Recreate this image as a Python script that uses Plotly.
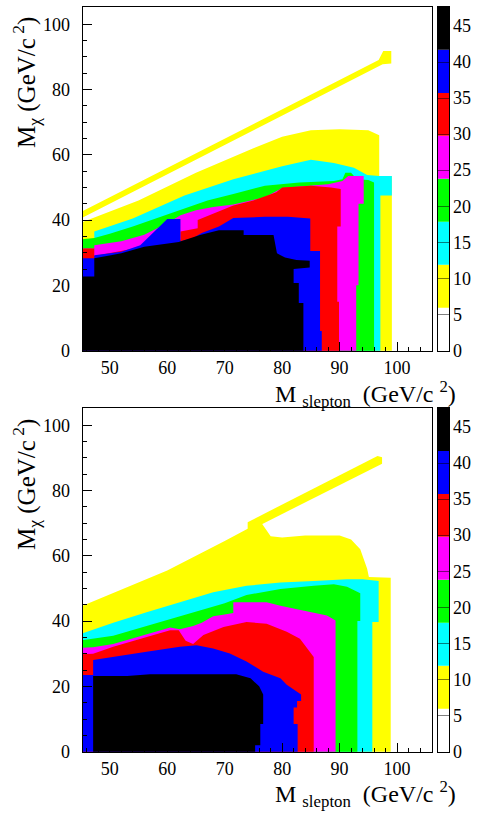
import plotly.graph_objects as go

# ---------------- data ----------------
# contour level edges of the colour scale (efficiency, %)
z_levels = [0, 5.96, 11.92, 17.89, 23.85, 29.81, 35.77, 41.74, 47.7]
level_colors = ["#ffffff", "#ffff00", "#00ffff", "#00ff00", "#ff00ff",
                "#ff0000", "#0000ff", "#000000"]
cbar_ticks = [0, 5, 10, 15, 20, 25, 30, 35, 40, 45]

x_ticks = [50, 60, 70, 80, 90, 100]
y_ticks = [0, 20, 40, 60, 80, 100]

# ---- upper panel: outer boundary of each region (>= level), M_slepton / M_chi ----
a_stripe_x = [45.3, 97.5, 99.0, 99.0, 97.6, 96.8, 45.3]
a_stripe_y = [40.8, 87.7, 88.0, 91.8, 91.8, 89.0, 42.8]

a_l1_x = [45.2, 55, 65, 75, 80, 85, 90, 95, 96.9, 96.9, 99.1, 99.1]
a_l1_y = [38.0, 46, 54.5, 62, 65.5, 67.5, 67.8, 67.5, 66.0, 53.5, 53.5, 0]

a_l2_x = [45.2, 47.3, 47.3, 54, 63, 71.5, 80, 85, 89, 92.5, 94.8, 96.9, 99.1, 99.1, 97.1, 97.1]
a_l2_y = [33.8, 33.8, 36.5, 40.5, 47.5, 52.5, 56.5, 58.5, 57.5, 56, 53.8, 53.5, 53.5, 47.5, 47.5, 0]

a_l3_x = [45.2, 47.3, 50, 54, 58, 63, 67, 71.5, 77, 83, 89, 90.5, 91, 92, 93, 95, 96, 96]
a_l3_y = [33.8, 34.5, 35.8, 38, 40.5, 43.5, 46, 48, 50.5, 51.5, 52, 52.5, 54.5, 54.5, 52.5, 52.3, 51.5, 0]

a_l4_x = [45.2, 47.3, 47.3, 52, 56, 60, 62.3, 65, 68, 71.5, 77, 80, 83, 88, 90.5, 91.5, 94.2, 94.2, 93.3, 93.3, 92.9, 92.9]
a_l4_y = [31.3, 31.3, 32.3, 33.5, 35.5, 39, 41.5, 43, 44, 44.8, 47, 49.8, 50.3, 51, 52, 53.5, 53.5, 45, 45, 20, 20, 0]

a_l5_x = [45.2, 47.3, 47.3, 55, 62.3, 62.3, 65.3, 65.3, 68, 71.5, 75, 79, 80, 85, 88.5, 90.2, 90.2, 89.6, 89.6, 89.9, 89.9]
a_l5_y = [31.3, 31.3, 29.0, 31.5, 34, 36.5, 37.5, 40, 42, 44.5, 46, 48.5, 50, 50.5, 50, 49.5, 38, 38, 15, 15, 0]

a_l6_x = [45.2, 47.3, 47.3, 52, 55.3, 58, 60, 62.3, 62.3, 64.5, 66, 69, 71.5, 77, 81, 84.9, 84.9, 86.6, 86.6, 86.9, 86.9]
a_l6_y = [28.3, 28.3, 29.2, 30.3, 32.3, 37, 40.3, 40.3, 33.5, 34.5, 36, 38, 40.6, 41, 41, 40.5, 30.5, 30.5, 6, 6, 0]

a_l7_x = [45.2, 47.3, 47.3, 52, 56, 62, 65.7, 69, 73.3, 73.3, 78.5, 79.1, 80.5, 82.5, 84.8, 84.8, 82.0, 82.0, 82.9, 82.9, 83.7, 83.7]
a_l7_y = [22.7, 22.7, 28.3, 29.8, 31.8, 33.3, 35.4, 36.9, 36.9, 35.4, 35.4, 29.8, 28.5, 27.8, 27.5, 25.5, 25, 20.7, 20.7, 14.6, 14.6, 0]

# ---- lower panel ----
b_stripe_x = [74.0, 96.5, 97.4, 97.4, 96.6, 74.0]
b_stripe_y = [67.5, 87.5, 88.2, 90.2, 90.6, 70.3]

b_l1_x = [45.2, 60, 70, 74, 76.5, 78, 80, 84, 90, 92, 93.6, 94.8, 95.1, 98.9, 98.9]
b_l1_y = [43.2, 55.5, 64.5, 68.3, 69.8, 66.0, 65.6, 66.2, 66.2, 65, 62, 56, 53.5, 53.3, 0]

b_l2_x = [45.2, 50.6, 56.4, 62.2, 68, 73.8, 79.7, 85.5, 91.3, 94, 96.8, 96.8, 95.7, 95.7]
b_l2_y = [35.0, 39.5, 42.7, 45.8, 48.8, 50.8, 51.8, 52.3, 52.8, 52.8, 52.3, 39.7, 39.7, 0]

b_l3_x = [45.2, 50.6, 56.4, 62.2, 66, 70, 73.8, 79.7, 85.5, 89, 91.3, 93.6, 93.6, 93.1, 93.1]
b_l3_y = [33.6, 35.5, 38.5, 41.5, 43.5, 45.5, 48, 49.8, 50.8, 51.3, 50.5, 48.5, 40, 40, 0]

b_l4_x = [45.2, 47.1, 50.6, 56.4, 60.5, 62.2, 64.5, 66, 68, 70, 71.5, 71.5, 77.3, 79.7, 82.6, 85.5, 87.8, 89.3, 89.3]
b_l4_y = [31.6, 32.0, 33.0, 36.0, 38.0, 37.5, 38.5, 39.5, 41.5, 42.0, 42.5, 45.8, 45.8, 44.7, 43.7, 42.7, 41.7, 40.2, 0]

b_l5_x = [45.2, 47.1, 50.6, 56.4, 60.5, 62, 63.2, 64.5, 66.3, 69.8, 73.8, 77.3, 80.8, 83.1, 84.3, 85.5, 85.5]
b_l5_y = [29.6, 30.0, 32.1, 35.2, 37.2, 37.2, 34, 33, 35.7, 38.2, 39.7, 39.2, 36.7, 34.6, 31.6, 29, 0]

b_l6_x = [45.2, 47.1, 47.1, 50.6, 56.4, 62.2, 65.1, 68, 70.9, 73.8, 76.7, 79.7, 80.8, 83.3, 83.3, 82.6, 82.6, 82.0, 82.0, 82.7, 82.7]
b_l6_y = [23.5, 23.5, 28.1, 29.1, 30.6, 32.1, 32.6, 31.6, 30.1, 27.6, 24.5, 22.5, 20.5, 17.5, 15.5, 15.5, 13.5, 13.5, 8.5, 8.5, 0]

b_l7_x = [47.1, 53, 57, 72, 74.5, 76, 76.7, 76.7, 76.2, 76.2, 75.3, 75.3]
b_l7_y = [23.2, 23.2, 23.7, 23.7, 22.5, 20, 17.5, 8.5, 8.5, 2, 2, 0]

# ---------------- figure ----------------
W, H = 478, 814
FONT = "Liberation Serif"
X_MIN, X_MAX = 45.25, 106
Y_MIN, Y_MAX = 0, 105.3

fig = go.Figure()

panels = [
    ("x", "y", a_stripe_x, a_stripe_y,
     [(a_l1_x, a_l1_y), (a_l2_x, a_l2_y), (a_l3_x, a_l3_y), (a_l4_x, a_l4_y),
      (a_l5_x, a_l5_y), (a_l6_x, a_l6_y), (a_l7_x, a_l7_y)]),
    ("x3", "y3", b_stripe_x, b_stripe_y,
     [(b_l1_x, b_l1_y), (b_l2_x, b_l2_y), (b_l3_x, b_l3_y), (b_l4_x, b_l4_y),
      (b_l5_x, b_l5_y), (b_l6_x, b_l6_y), (b_l7_x, b_l7_y)]),
]

PAD = 2.0  # polygons are closed just outside the frame so no edge seams show
for xa, ya, sx, sy, levels in panels:
    sxx = [v - PAD if v <= X_MIN else v for v in sx]
    fig.add_trace(go.Scatter(x=sxx, y=sy, fill="toself", fillcolor=level_colors[1],
                             mode="lines", line=dict(width=0), hoverinfo="skip",
                             showlegend=False, xaxis=xa, yaxis=ya))
    for i, (lx, ly) in enumerate(levels):
        px = [v - PAD if v <= X_MIN else v for v in lx]
        py = list(ly)
        px = px + [px[-1], px[0]]
        py = py + [Y_MIN - PAD, Y_MIN - PAD]
        fig.add_trace(go.Scatter(x=px, y=py, fill="toself", fillcolor=level_colors[i + 1],
                                 mode="lines", line=dict(width=0), hoverinfo="skip",
                                 showlegend=False, xaxis=xa, yaxis=ya))

# colour bars
for xa, ya in [("x2", "y2"), ("x4", "y4")]:
    for i in range(len(level_colors)):
        fig.add_trace(go.Bar(x=[0], y=[z_levels[i + 1] - z_levels[i]], base=[z_levels[i]],
                             width=1, marker=dict(color=level_colors[i], line=dict(width=0)),
                             hoverinfo="skip", showlegend=False, xaxis=xa, yaxis=ya))


def pxx(p):
    return p / W


def pyy(p):
    return 1 - p / H


main_x_dom = [pxx(82.5), pxx(431.5)]
cb_x_dom = [pxx(437.5), pxx(449)]
top_dom = [pyy(355), pyy(7)]
bot_dom = [pyy(761), pyy(413)]

tickfont = dict(family=FONT, size=18, color="black")

xcommon = dict(range=[X_MIN, X_MAX], tickvals=x_ticks, ticks="inside", ticklen=9,
               tickcolor="black", tickwidth=1,
               minor=dict(ticks="inside", ticklen=4, dtick=2, tick0=0, tickcolor="black"),
               showline=True, linecolor="black", linewidth=1, mirror=True,
               showgrid=False, zeroline=False, tickfont=tickfont, ticklabelstandoff=1,
               fixedrange=True)
ycommon = dict(range=[Y_MIN, Y_MAX], tickvals=y_ticks, ticks="inside", ticklen=9,
               tickcolor="black", tickwidth=1,
               minor=dict(ticks="inside", ticklen=4, dtick=5, tick0=0, tickcolor="black"),
               showline=True, linecolor="black", linewidth=1, mirror=True,
               showgrid=False, zeroline=False, tickfont=tickfont, ticklabelstandoff=8,
               fixedrange=True)
cbx = dict(range=[-0.5, 0.5], showticklabels=False, ticks="", showline=True,
           linecolor="black", linewidth=1, mirror=True, showgrid=False, zeroline=False,
           fixedrange=True)
cby = dict(range=[0, z_levels[-1]], tickvals=cbar_ticks, side="right", ticks="inside",
           ticklen=11, tickcolor="rgba(0,0,0,0.5)", showline=True, linecolor="black",
           linewidth=1, mirror=True, showgrid=False, zeroline=False,
           showticklabels=False, fixedrange=True)

fig.update_layout(
    width=W, height=H, autosize=False,
    margin=dict(l=0, r=0, t=0, b=0),
    paper_bgcolor="white", plot_bgcolor="white",
    barmode="overlay",
    xaxis=dict(domain=main_x_dom, anchor="y", **xcommon),
    yaxis=dict(domain=top_dom, anchor="x", **ycommon),
    xaxis2=dict(domain=cb_x_dom, anchor="y2", **cbx),
    yaxis2=dict(domain=top_dom, anchor="x2", **cby),
    xaxis3=dict(domain=main_x_dom, anchor="y3", **xcommon),
    yaxis3=dict(domain=bot_dom, anchor="x3", **ycommon),
    xaxis4=dict(domain=cb_x_dom, anchor="y4", **cbx),
    yaxis4=dict(domain=bot_dom, anchor="x4", **cby),
    showlegend=False,
)

# colour-bar labels
for ya in ["y2", "y4"]:
    for t in cbar_ticks:
        fig.add_annotation(text=str(t), xref="paper", yref=ya, x=pxx(451), y=t,
                           xanchor="left", yanchor="middle", showarrow=False,
                           font=dict(family=FONT, size=18, color="black"))

ytitle = "M<sub>χ</sub> (GeV/c<sup> 2</sup>)"
xtitle = "M <sub>slepton</sub>  (GeV/c <sup>2</sup>)"
for ymid, xy in [(84, 399), (491, 804)]:
    fig.add_annotation(text=ytitle, textangle=-90, xref="paper", yref="paper",
                       x=pxx(26), y=pyy(ymid), xanchor="center", yanchor="middle",
                       showarrow=False, font=dict(family=FONT, size=25, color="black"))
    fig.add_annotation(text=xtitle, xref="paper", yref="paper",
                       x=pxx(458), y=pyy(xy), xanchor="right", yanchor="middle",
                       showarrow=False, font=dict(family=FONT, size=24, color="black"))

fig.write_html("out.html", config={"displayModeBar": False},
               post_script="document.body.style.margin='0';"
                           "document.body.style.overflow='hidden';")
